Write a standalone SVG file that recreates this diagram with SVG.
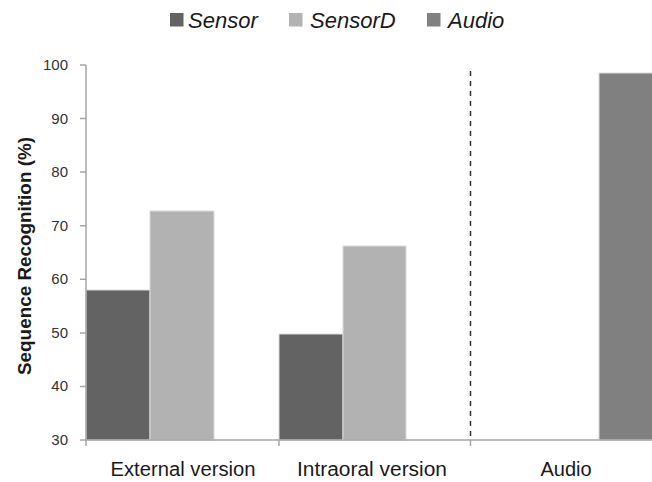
<svg xmlns="http://www.w3.org/2000/svg" width="652" height="482" viewBox="0 0 652 482">
<style>
.t{font-family:"Liberation Sans",Arial,sans-serif;fill:#1a1a1a}
.tick{font-size:15px;text-anchor:end;fill:#333}
.cat{font-size:20px;text-anchor:middle}
.leg{font-size:22px;font-style:italic}
.ax{stroke:#a6a6a6;stroke-width:1.5;fill:none}
.s{fill:#636363}
.sd{fill:#b2b2b2}
.au{fill:#808080}
.bar{stroke:#dcdcdc;stroke-width:1}
</style>
<rect width="652" height="482" fill="#fff"/>
<g id="legend">
<rect class="s" x="170" y="13" width="13.5" height="13.5"/>
<text class="t leg" x="188" y="28">Sensor</text>
<rect class="sd" x="289" y="13" width="13.5" height="13.5"/>
<text class="t leg" x="310" y="28">SensorD</text>
<rect class="au" x="427" y="13" width="13.5" height="13.5"/>
<text class="t leg" x="448" y="28">Audio</text>
</g>
<g id="bars">
<rect class="s bar" x="86" y="290" width="64" height="150"/>
<rect class="sd bar" x="150" y="211" width="64" height="229"/>
<rect class="s bar" x="279" y="334" width="64" height="106"/>
<rect class="sd bar" x="343" y="246" width="63" height="194"/>
<rect class="au bar" x="599" y="73" width="60" height="367"/>
</g>
<g id="axes">
<path class="ax" d="M86 65V440H652"/>
<path class="ax" d="M80 65H86M80 118.6H86M80 172.1H86M80 225.7H86M80 279.3H86M80 332.9H86M80 386.4H86M80 440H86"/>
<path class="ax" d="M86 440V446M279 440V446M470.5 440V446"/>
</g>
<g id="divider">
<line x1="470.5" y1="71" x2="470.5" y2="440" stroke="#333" stroke-width="1.5" stroke-dasharray="5 5"/>
</g>
<g id="ylabels">
<text class="t tick" x="68" y="70">100</text>
<text class="t tick" x="68" y="123.6">90</text>
<text class="t tick" x="68" y="177.1">80</text>
<text class="t tick" x="68" y="230.7">70</text>
<text class="t tick" x="68" y="284.3">60</text>
<text class="t tick" x="68" y="337.9">50</text>
<text class="t tick" x="68" y="391.4">40</text>
<text class="t tick" x="68" y="445">30</text>
</g>
<text class="t" transform="translate(31 256) rotate(-90)" text-anchor="middle" font-size="19" font-weight="bold" textLength="238" lengthAdjust="spacingAndGlyphs">Sequence Recognition (%)</text>
<g id="xlabels">
<text class="t cat" x="183" y="476" textLength="145" lengthAdjust="spacingAndGlyphs">External version</text>
<text class="t cat" x="372" y="476" textLength="150" lengthAdjust="spacingAndGlyphs">Intraoral version</text>
<text class="t cat" x="566" y="476">Audio</text>
</g>
</svg>
